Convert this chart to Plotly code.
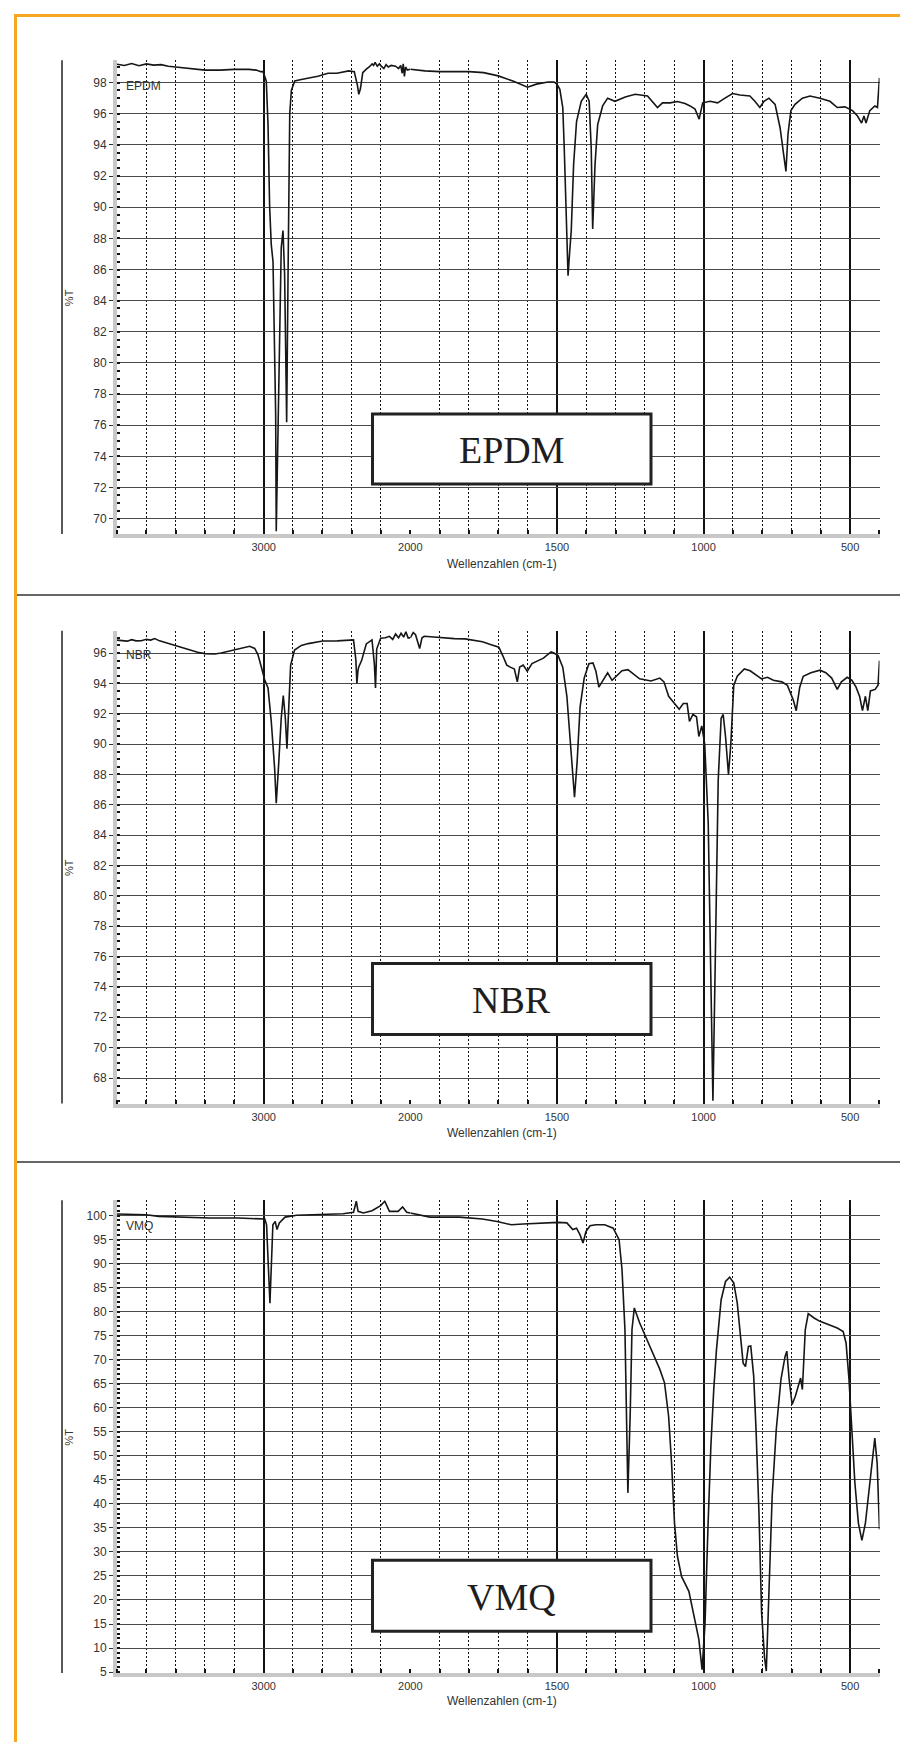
import plotly.graph_objects as go

# ---------------- data (wavenumber cm-1, %T) ----------------
epdm_wn = [4000, 3950, 3900, 3850, 3800, 3750, 3700, 3650, 3600, 3550, 3500, 3450, 3400, 3300, 3200, 3100,
           3050, 3020, 3004, 2982, 2970, 2959, 2948, 2936, 2925, 2918, 2914, 2902, 2891, 2880, 2868, 2857,
           2850, 2843, 2834, 2829, 2822, 2811, 2788, 2743, 2630, 2561, 2500, 2420, 2382, 2360, 2351, 2340,
           2324, 2300, 2280, 2260, 2250, 2240, 2225, 2210, 2200, 2180, 2165, 2150, 2130, 2100, 2080, 2065,
           2055, 2048, 2040, 2032, 2020, 2000, 1950, 1900, 1800, 1750, 1700, 1650, 1620, 1600, 1570, 1530,
           1510, 1500, 1490, 1480, 1475, 1470, 1465, 1462, 1457, 1451, 1443, 1433, 1417, 1400, 1390, 1383,
           1378, 1370, 1361, 1344, 1327, 1302, 1267, 1233, 1191, 1174, 1157, 1140, 1114, 1089, 1063, 1046,
           1029, 1015, 1003, 978, 952, 927, 901, 876, 842, 825, 808, 794, 777, 756, 739, 727, 719, 712, 702,
           688, 663, 637, 603, 569, 544, 518, 492, 475, 461, 453, 446, 433, 416, 407, 400]
epdm_t = [99.18, 99.1, 99.22, 99.08, 99.2, 99.12, 99.15, 99.05, 99.0, 98.95, 98.9, 98.85, 98.8, 98.8, 98.85, 98.85,
          98.8, 98.7, 98.7, 98.1, 95.3, 90.0, 87.6, 86.5, 81.0, 76.7, 69.2, 76.7, 83.1, 87.4, 88.5, 85.7,
          81.0, 76.2, 85.2, 91.7, 96.0, 97.5, 98.1, 98.2, 98.4, 98.6, 98.6, 98.75, 98.7, 97.8, 97.25, 97.6,
          98.64, 98.86, 99.0, 99.2, 99.1, 99.3, 99.05, 99.2, 99.07, 98.9, 99.15, 99.0, 99.1, 99.05, 98.9, 99.1,
          98.6, 99.2, 98.4, 99.0, 98.8, 98.86, 98.75, 98.7, 98.7, 98.64, 98.43, 98.1, 97.85, 97.7, 97.9, 98.04,
          98.04, 97.9, 97.57, 96.4, 93.8, 90.6, 87.4, 85.6, 87.0, 88.5, 92.75, 95.5, 96.8, 97.25, 96.8, 93.8,
          88.6, 92.75, 95.3, 96.5, 97.0, 96.8, 97.08, 97.25, 97.14, 96.8, 96.4, 96.7, 96.7, 96.78, 96.65, 96.5,
          96.3, 95.65, 96.7, 96.8, 96.7, 97.0, 97.3, 97.2, 97.14, 96.8, 96.4, 96.8, 97.0, 96.6, 95.1, 93.4, 92.3, 94.7, 96.2,
          96.6, 97.0, 97.14, 97.0, 96.8, 96.4, 96.44, 96.2, 95.85, 95.4, 95.85, 95.4, 96.2, 96.5, 96.4, 98.3]

nbr_wn = [4000, 3975, 3930, 3900, 3870, 3834, 3800, 3770, 3743, 3710, 3675, 3630, 3584, 3540, 3493, 3450,
          3402, 3334, 3290, 3243, 3200, 3152, 3095, 3061, 3039, 3016, 2993, 2970, 2948, 2925, 2914, 2898,
          2880, 2866, 2852, 2841, 2827, 2816, 2789, 2743, 2696, 2597, 2498, 2440, 2387, 2371, 2364, 2357,
          2352, 2332, 2300, 2261, 2245, 2237, 2229, 2202, 2170, 2142, 2120, 2100, 2080, 2063, 2045, 2030,
          2015, 2000, 1990, 1982, 1968, 1960, 1952, 1920, 1893, 1850, 1813, 1780, 1754, 1724, 1698, 1684,
          1671, 1659, 1645, 1635, 1627, 1615, 1601, 1585, 1565, 1546, 1520, 1510, 1496, 1480, 1466, 1452,
          1440, 1431, 1421, 1407, 1391, 1377, 1367, 1357, 1343, 1327, 1312, 1298, 1278, 1258, 1238, 1218,
          1179, 1149, 1135, 1119, 1099, 1083, 1069, 1056, 1048, 1036, 1024, 1016, 1006, 996, 984, 976, 968,
          960, 950, 940, 933, 925, 915, 907, 897, 885, 861, 841, 821, 802, 782, 762, 733, 714, 694, 684,
          672, 660, 634, 603, 583, 563, 544, 530, 510, 494, 480, 468, 458, 448, 440, 431, 415, 405, 400]
nbr_t = [96.85, 96.84, 96.78, 96.88, 96.8, 96.81, 96.9, 96.85, 96.95, 96.8, 96.7, 96.55, 96.44, 96.3, 96.2, 96.05,
         95.96, 95.93, 96.0, 96.1, 96.22, 96.33, 96.44, 96.3, 95.9, 95.1, 94.24, 93.7, 91.5, 88.4, 86.1, 88.6,
         91.7, 93.2, 91.7, 89.7, 92.4, 95.2, 96.2, 96.5, 96.62, 96.79, 96.8, 96.85, 96.86, 95.55, 94.0, 94.8,
         95.07, 95.5, 96.6, 96.86, 95.3, 93.7, 96.26, 96.98, 97.0, 97.1, 96.9, 97.25, 97.0, 97.3, 97.05, 97.4,
         97.0, 97.0, 97.35, 97.2, 96.3, 97.0, 97.1, 97.05, 97.0, 96.95, 96.93, 96.85, 96.74, 96.55, 96.38, 95.8,
         95.2, 95.07, 94.95, 94.1, 95.07, 95.2, 94.8, 95.3, 95.5, 95.66, 96.07, 96.0, 95.83, 95.07, 93.15, 89.56,
         86.5, 88.84, 92.43, 94.35, 95.3, 95.35, 94.8, 93.75, 94.2, 94.7, 94.2, 94.47, 94.83, 94.9, 94.6, 94.3,
         94.16, 94.35, 94.1, 93.15, 92.67, 92.3, 92.67, 92.67, 91.5, 91.95, 91.8, 90.5, 91.2, 90.0, 84.8, 75.7, 66.5,
         75.7, 87.6, 91.7, 91.95, 90.5, 88.0, 90.0, 93.87, 94.47, 94.95, 94.83, 94.54, 94.3, 94.4, 94.2, 94.1, 93.87, 92.9, 92.2,
         93.75, 94.47, 94.7, 94.87, 94.7, 94.35, 93.6, 94.1, 94.4, 94.2, 93.75, 93.15, 92.2, 93.15, 92.2, 93.5, 93.6, 93.87, 95.5]

vmq_wn = [4000, 3900, 3802, 3715, 3565, 3368, 3170, 3012, 2992, 2980, 2972, 2964, 2957, 2949, 2937, 2921,
          2909, 2893, 2854, 2775, 2617, 2458, 2387, 2368, 2356, 2320, 2261, 2202, 2174, 2142, 2083, 2052,
          2024, 2000, 1972, 1933, 1833, 1754, 1704, 1655, 1615, 1556, 1496, 1466, 1446, 1433, 1421, 1411,
          1401, 1387, 1367, 1337, 1308, 1288, 1278, 1268, 1262, 1258, 1250, 1244, 1236, 1218, 1198, 1169,
          1149, 1133, 1119, 1109, 1099, 1089, 1075, 1050, 1030, 1016, 1005, 995, 985, 975, 965, 956, 940,
          925, 911, 897, 885, 875, 865, 857, 847, 839, 829, 821, 811, 802, 792, 786, 778, 766, 752, 736,
          722, 716, 708, 698, 687, 675, 669, 663, 653, 643, 623, 603, 574, 544, 524, 514, 504, 494, 484,
          472, 460, 448, 438, 424, 416, 408, 400]
vmq_t = [100.35, 100.3, 100.2, 99.86, 99.7, 99.5, 99.5, 99.4, 99.3, 98.1, 93.6, 86.7, 81.8, 90.1, 98.1, 98.8,
         97.1, 98.5, 99.7, 100.1, 100.2, 100.4, 100.7, 103.0, 100.9, 100.55, 101.04, 102.1, 103.0, 100.9, 100.9, 101.8,
         100.7, 100.55, 100.2, 99.7, 99.7, 99.3, 98.8, 98.1, 98.27, 98.5, 98.6, 98.5, 97.1, 97.4, 96.0, 94.3,
         96.7, 97.9, 98.1, 98.1, 97.4, 95.0, 88.8, 76.3, 55.5, 42.3, 58.9, 76.3, 80.8, 77.7, 74.9, 70.7,
         68.0, 65.2, 58.2, 48.5, 36.0, 29.1, 24.9, 21.8, 15.9, 11.8, 5.5, 15.0, 35.0, 52.0, 64.0, 72.0, 82.5,
         86.3, 87.2, 86.0, 81.8, 74.9, 69.3, 68.6, 72.8, 72.9, 66.6, 55.5, 38.1, 17.3, 8.0, 5.2, 20.8, 41.6, 55.5, 65.9,
         70.7, 71.8, 65.9, 60.7, 62.4, 65.2, 66.2, 63.8, 76.3, 79.6, 78.7, 78.0, 77.3, 76.6, 75.9, 73.5, 65.9, 55.5, 44.4,
         36.0, 32.4, 36.0, 41.6, 49.9, 53.7, 48.5, 34.7]

panel_names = ["EPDM", "NBR", "VMQ"]
y_ranges = [[69.02, 99.43], [66.32, 97.47], [4.8, 103.2]]
y_dticks = [2, 2, 5]
y_minor = [0.5, 0.5, 1]
hi_tickvals = [3000]
hi_ticktext = ["3000"]
lo_tickvals = [2000, 1500, 1000, 500]
lo_ticktext = ["2000", "1500", "1000", "500"]
x_title = "Wellenzahlen (cm-1)"
y_title = "%T"

# ---------------- layout geometry (pixels) ----------------
W, H = 908, 1742
PL, PR = 109.0, 871.5
PS = PL + (PR - PL) * 2000.0 / 5200.0
panel_px = [(52.3, 526.0), (622.7, 1095.5), (1192.3, 1665.0)]
title_px = [556, 1124.5, 1693.3]
name_px = [78, 647, 1218]
box_px = [(406, 476), (955.5, 1026.4), (1552.3, 1623.3)]
sep_px = [587, 1154]
ORANGE = "#F6A823"

def fx(p):
    return p / W

def fy(p):
    return 1 - p / H

series = [(epdm_wn, epdm_t), (nbr_wn, nbr_t), (vmq_wn, vmq_t)]
fig = go.Figure()
layout = {}
shapes = []
annotations = []
tfont = dict(family="Liberation Sans, Arial, sans-serif", size=12, color="#333333")

for i, (wn, tt) in enumerate(series):
    ia, ib, iy = 2 * i + 1, 2 * i + 2, i + 1
    xa = "x" if ia == 1 else f"x{ia}"
    xb = f"x{ib}"
    ya = "y" if iy == 1 else f"y{iy}"
    hi = [(w, t) for w, t in zip(wn, tt) if w >= 2000]
    lo = [(w, t) for w, t in zip(wn, tt) if w <= 2000]
    for pts, xn in ((hi, xa), (lo, xb)):
        fig.add_trace(go.Scatter(x=[p[0] for p in pts], y=[p[1] for p in pts], xaxis=xn, yaxis=ya,
                                 mode="lines", line=dict(color="#161616", width=1.6),
                                 showlegend=False, hoverinfo="skip"))
    top, bot = panel_px[i]
    ydom = [fy(bot), fy(top)]
    common_x = dict(anchor=ya, showgrid=True, gridcolor="#111111", gridwidth=1.6,
                    showline=True, linecolor="#c8c8c8", linewidth=4, ticks="", zeroline=False,
                    tickfont=dict(family="Liberation Sans, Arial, sans-serif", size=11, color="#333333"),
                    automargin=False, fixedrange=True)
    layout["xaxis" if ia == 1 else f"xaxis{ia}"] = dict(
        domain=[fx(PL), fx(PS)], range=[4000, 2000], tickmode="array", tickvals=hi_tickvals, ticktext=hi_ticktext,
        minor=dict(tickmode="linear", tick0=0, dtick=200, showgrid=True, griddash="2px,2px",
                   gridcolor="#111111", gridwidth=1.2, ticks="inside", ticklen=4, tickcolor="#111111", tickwidth=1.5),
        **common_x)
    layout[f"xaxis{ib}"] = dict(
        domain=[fx(PS), fx(PR)], range=[2000, 400], tickmode="array", tickvals=lo_tickvals, ticktext=lo_ticktext,
        minor=dict(tickmode="linear", tick0=0, dtick=100, showgrid=True, griddash="2px,2px",
                   gridcolor="#111111", gridwidth=1.2, ticks="inside", ticklen=4, tickcolor="#111111", tickwidth=1.5),
        **common_x)
    layout["yaxis" if iy == 1 else f"yaxis{iy}"] = dict(
        domain=ydom, range=y_ranges[i], anchor=xa, side="left", tickmode="linear", tick0=0, dtick=y_dticks[i],
        ticks="outside", ticklen=4, tickcolor="#333333", tickwidth=1.2,
        showgrid=True, gridcolor="#4a4a4a", gridwidth=1.3,
        showline=True, linecolor="#c8c8c8", linewidth=4, zeroline=False,
        minor=dict(tickmode="linear", tick0=0, dtick=y_minor[i], ticks="inside", ticklen=3,
                   tickcolor="#111111", tickwidth=1.5, showgrid=False),
        tickfont=tfont, automargin=False, fixedrange=True)

    shapes.append(dict(type="line", xref="paper", yref="paper", x0=fx(54), x1=fx(54), y0=fy(bot), y1=fy(top),
                       line=dict(color="#222222", width=1.5)))
    b0, b1 = box_px[i]
    shapes.append(dict(type="rect", xref="paper", yref="paper", x0=fx(364.5), x1=fx(643), y0=fy(b1), y1=fy(b0),
                       fillcolor="white", line=dict(color="#222222", width=3), layer="above"))
    annotations.append(dict(x=fx(503.7), y=fy((b0 + b1) / 2 + 1), xref="paper", yref="paper", text=panel_names[i],
                            showarrow=False, xanchor="center", yanchor="middle",
                            font=dict(family="Liberation Serif, Times New Roman, serif", size=38, color="#1e1e1e")))
    annotations.append(dict(x=fx(116), y=fy(name_px[i]), xref="paper", yref="paper", text=panel_names[i],
                            showarrow=False, xanchor="left", yanchor="middle",
                            font=dict(family="Liberation Sans, Arial, sans-serif", size=12, color="#333333")))
    annotations.append(dict(x=fx(61), y=fy((top + bot) / 2), xref="paper", yref="paper", text=y_title,
                            showarrow=False, xanchor="center", yanchor="middle", textangle=-90,
                            font=dict(family="Liberation Sans, Arial, sans-serif", size=11, color="#333333")))
    annotations.append(dict(x=fx(494), y=fy(title_px[i]), xref="paper", yref="paper", text=x_title,
                            showarrow=False, xanchor="center", yanchor="middle",
                            font=dict(family="Liberation Sans, Arial, sans-serif", size=12, color="#333333")))

shapes.append(dict(type="line", xref="paper", yref="paper", x0=fx(6), x1=1, y0=fy(7.5), y1=fy(7.5),
                   line=dict(color=ORANGE, width=3)))
shapes.append(dict(type="line", xref="paper", yref="paper", x0=fx(7.5), x1=fx(7.5), y0=0, y1=fy(6),
                   line=dict(color=ORANGE, width=3)))
for s in sep_px:
    shapes.append(dict(type="line", xref="paper", yref="paper", x0=fx(9), x1=1, y0=fy(s), y1=fy(s),
                       line=dict(color="#333333", width=1.5)))

fig.update_layout(width=W, height=H, margin=dict(l=0, r=0, t=0, b=0), paper_bgcolor="white",
                  plot_bgcolor="white", shapes=shapes, annotations=annotations, **layout)
fig.write_html("out.html")
